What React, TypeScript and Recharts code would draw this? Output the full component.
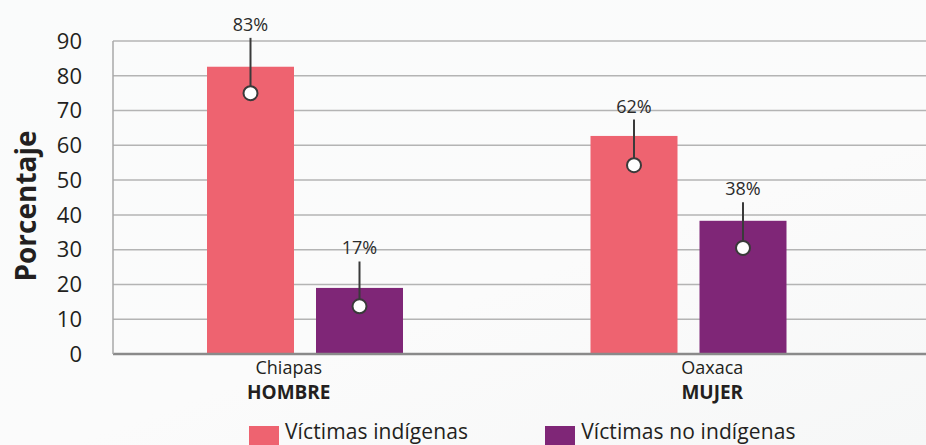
import React from "react";
import { BarChart, Bar, XAxis, YAxis, CartesianGrid } from "recharts";

const categories = ["Chiapas", "Oaxaca"];
const groups = ["HOMBRE", "MUJER"];
const indigenas = [82.6, 62.7];
const noIndigenas = [19.0, 38.3];
const labelsIndigenas = ["83%", "62%"];
const labelsNoIndigenas = ["17%", "38%"];
const dotIndigenas = [75.0, 54.3];
const dotNoIndigenas = [13.7, 30.5];
const topIndigenas = [90.9, 67.4];
const topNoIndigenas = [26.6, 43.6];
const yTicks = [0, 10, 20, 30, 40, 50, 60, 70, 80, 90];

const seriesNames = ["Víctimas indígenas", "Víctimas no indígenas"];
const seriesColors = ["#EE6370", "#7F2677"];

const rows = categories.map((c, i) => ({
  category: c,
  group: groups[i],
  ind: indigenas[i],
  noInd: noIndigenas[i],
  labelInd: labelsIndigenas[i],
  labelNoInd: labelsNoIndigenas[i],
  dotInd: dotIndigenas[i],
  dotNoInd: dotNoIndigenas[i],
  topInd: topIndigenas[i],
  topNoInd: topNoIndigenas[i],
}));

const FONT = '"Open Sans", "Noto Sans", sans-serif';
const tickOffsets = [-16, 24];

const makeShape = (valueKey: string, dotKey: string, topKey: string, labelKey: string) => (props: any) => {
  const { x, y, width, height, payload, fill } = props;
  const v = payload[valueKey];
  const ppu = v ? height / v : 0;
  const base = y + height;
  const cx = x + width / 2;
  const dotY = base - payload[dotKey] * ppu;
  const topY = base - payload[topKey] * ppu;
  return (
    <g>
      <rect x={x} y={y} width={width} height={height} fill={fill} />
      <line x1={cx} x2={cx} y1={topY} y2={dotY} stroke="#3a3a3a" strokeWidth={2} />
      <circle cx={cx} cy={dotY} r={7} fill="#fff" stroke="#3a3a3a" strokeWidth={2} />
      <text x={cx} y={topY - 7} textAnchor="middle" fontSize={18} fill="#2b2b2b" fontFamily={FONT}>
        {payload[labelKey]}
      </text>
    </g>
  );
};

const XTick = (props: any) => {
  const { x, y, payload, index } = props;
  const i = index ?? categories.indexOf(payload.value);
  const tx = x + (tickOffsets[i] || 0);
  return (
    <g>
      <text x={tx} y={y + 20} textAnchor="middle" fontSize={18} fill="#231f20" fontFamily={FONT}>
        {payload.value}
      </text>
      <text x={tx} y={y + 45} textAnchor="middle" fontSize={19} fontWeight="bold" fill="#231f20" fontFamily={FONT}>
        {groups[i]}
      </text>
    </g>
  );
};

const YLabel = () => (
  <text
    x={36}
    y={206}
    transform="rotate(-90, 36, 206)"
    textAnchor="middle"
    fontSize={28}
    fontWeight="bold"
    fill="#231f20"
    fontFamily={FONT}
  >
    Porcentaje
  </text>
);

export default function App() {
  return (
    <div
      style={{
        position: "absolute",
        left: 0,
        top: 0,
        width: 926,
        height: 445,
        overflow: "hidden",
        background: "linear-gradient(160deg, #fafbfb 0%, #fbfbfb 60%, #f6f7f7 100%)",
        fontFamily: FONT,
      }}
    >
      <BarChart
        width={926}
        height={445}
        data={rows}
        margin={{ top: 41, right: 0, left: 0, bottom: 0 }}
        barSize={87}
        barGap={22}
      >
        <CartesianGrid vertical={false} stroke="#b4b4b4" strokeWidth={1.5} />
        <XAxis
          dataKey="category"
          height={91}
          padding={{ left: 0, right: 46 }}
          tickLine={false}
          tickSize={0}
          tickMargin={0}
          axisLine={{ stroke: "#8a8a8a", strokeWidth: 2.5 }}
          tick={<XTick />}
          interval={0}
        />
        <YAxis
          width={113}
          domain={[0, 90]}
          ticks={yTicks}
          tickLine={false}
          tickSize={0}
          tickMargin={31}
          axisLine={{ stroke: "#a8a8a8", strokeWidth: 1.5 }}
          tick={{ fontSize: 22, fill: "#231f20", fontFamily: FONT }}
          label={<YLabel />}
        />
        <Bar
          dataKey="ind"
          name={seriesNames[0]}
          fill={seriesColors[0]}
          isAnimationActive={false}
          shape={makeShape("ind", "dotInd", "topInd", "labelInd")}
        />
        <Bar
          dataKey="noInd"
          name={seriesNames[1]}
          fill={seriesColors[1]}
          isAnimationActive={false}
          shape={makeShape("noInd", "dotNoInd", "topNoInd", "labelNoInd")}
        />
      </BarChart>
      <div
        style={{
          position: "absolute",
          left: 249,
          top: 426,
          display: "flex",
          alignItems: "flex-start",
          whiteSpace: "nowrap",
        }}
      >
        {seriesNames.map((n, i) => (
          <div key={n} style={{ display: "flex", alignItems: "flex-start", marginRight: i === 0 ? 77 : 0 }}>
            <div style={{ width: 30, height: 30, background: seriesColors[i], marginRight: 6 }} />
            <div
              style={{
                fontSize: 21,
                lineHeight: "19px",
                height: 19,
                color: "#231f20",
                marginTop: -4,
                letterSpacing: 0.1,
              }}
            >
              {n}
            </div>
          </div>
        ))}
      </div>
    </div>
  );
}
